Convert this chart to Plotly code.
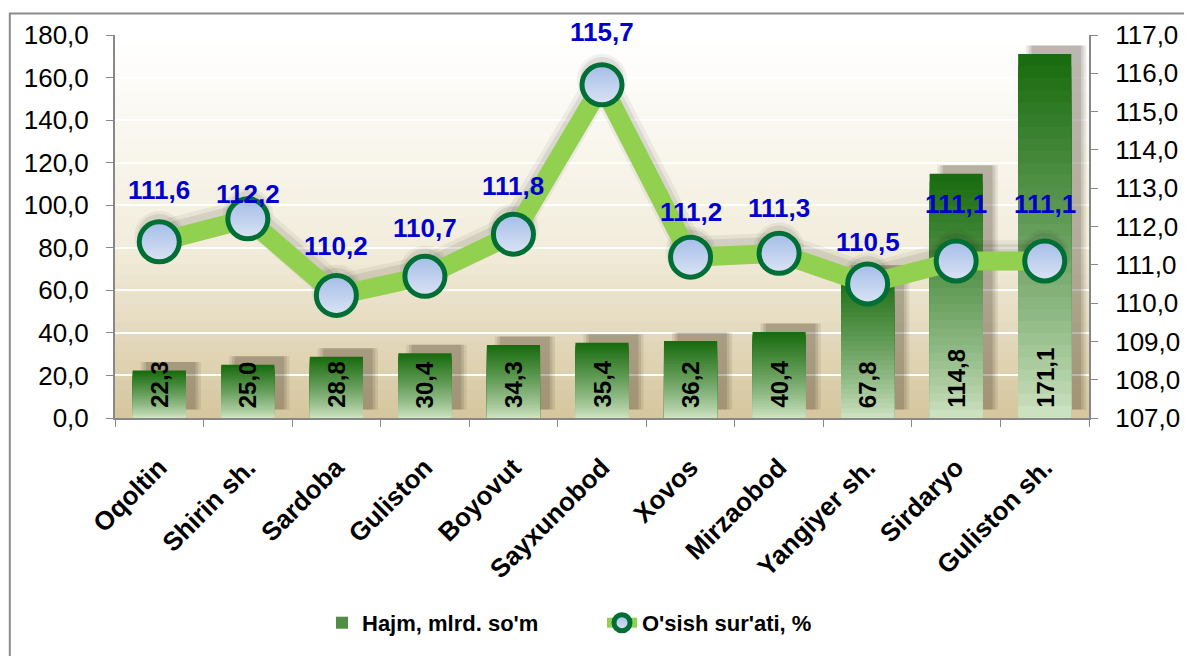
import plotly.graph_objects as go

# Tuman / shaharlar bo'yicha hajm va o'sish sur'ati
districts = ['Oqoltin', 'Shirin sh.', 'Sardoba', 'Guliston', 'Boyovut', 'Sayxunobod',
             'Xovos', 'Mirzaobod', 'Yangiyer sh.', 'Sirdaryo', 'Guliston sh.']
volume = [22.3, 25.0, 28.8, 30.4, 34.3, 35.4, 36.2, 40.4, 67.8, 114.8, 171.1]
growth = [111.6, 112.2, 110.2, 110.7, 111.8, 115.7, 111.2, 111.3, 110.5, 111.1, 111.1]

FONT = 'Arial, Liberation Sans, sans-serif'


def mix(c1, c2, t):
    t = min(max(t, 0), 1)
    return 'rgb(%d,%d,%d)' % tuple(round(a + (b - a) * t) for a, b in zip(c1, c2))


fig = go.Figure()

# soft bar shadows (up and to the right)
for w, a in [(0.68, 0.10), (0.62, 0.13), (0.56, 0.16)]:
    fig.add_trace(go.Bar(
        x=districts, y=volume, base=4, width=w, offset=-w / 2 + 0.13,
        marker=dict(color=f'rgba(60,50,30,{a})', line=dict(width=0)),
        showlegend=False, hoverinfo='skip',
    ))

# gradient bars: full-height dark bar first, then shorter and lighter bars on top
n_steps = 30
light, dark = (216, 233, 204), (26, 108, 16)
for i in range(n_steps):
    frac = (n_steps - i) / n_steps
    fig.add_trace(go.Bar(
        x=districts, y=[v * frac for v in volume],
        marker=dict(color=mix(light, dark, frac ** 0.8), line=dict(width=0)),
        width=0.6, name='Hajm, mlrd. so\'m', legendgroup='hajm',
        showlegend=(i == n_steps // 3), hoverinfo='skip',
    ))

# background gradient for the plot area
bg_top, bg_mid, bg_bot = (255, 255, 255), (242, 237, 220), (214, 199, 160)
n_bg = 40
for i in range(n_bg):
    t = i / (n_bg - 1)
    col = mix(bg_mid, bg_top, (t - 0.45) / 0.55) if t > 0.45 else mix(bg_bot, bg_mid, t / 0.45)
    fig.add_shape(type='rect', xref='x domain', yref='y domain',
                  x0=0, x1=1, y0=i / n_bg, y1=(i + 1) / n_bg + 0.002,
                  fillcolor=col, line=dict(width=0), layer='below')

# line shadow on a hidden, slightly shifted helper axis (y2)
for lw, ms, a in [(30, 50, 0.06), (22, 44, 0.09)]:
    fig.add_trace(go.Scatter(
        x=districts, y=growth, yaxis='y2', mode='lines+markers',
        line=dict(color=f'rgba(30,30,20,{a})', width=lw),
        marker=dict(size=ms, color=f'rgba(30,30,20,{a})'),
        showlegend=False, hoverinfo='skip',
    ))

# growth line on the visible right axis (y3)
fig.add_trace(go.Scatter(
    x=districts, y=growth, yaxis='y3', mode='lines+markers',
    name='O\'sish sur\'ati, %',
    line=dict(color='#92d050', width=19),
    marker=dict(size=40, color='#a4bde8', line=dict(color='#006f35', width=5),
                gradient=dict(type='vertical', color='#dbe4f4')),
))

# blue growth labels above markers
label_shift = [52, 25, 49, 48, 48, 53, 45, 45, 42, 57, 57]
for d, g, s in zip(districts, growth, label_shift):
    fig.add_annotation(x=d, y=g, yref='y3', text=f'{g:.1f}'.replace('.', ','),
                       showarrow=False, yshift=s,
                       font=dict(family=FONT, size=26, color='#0000cc', weight='bold'))

# rotated volume labels near bar bottom
for d, v in zip(districts, volume):
    fig.add_annotation(x=d, y=0, text=f'{v:.1f}'.replace('.', ','), textangle=-90,
                       showarrow=False, yanchor='bottom', yshift=8,
                       font=dict(family=FONT, size=24, color='black', weight='bold'))

# outer chart border
fig.add_shape(type='rect', xref='paper', yref='paper', x0=-0.108, x1=1.2, y0=-0.8, y1=1.056,
              line=dict(color='#8c8c8c', width=2), layer='above')

axis_common = dict(ticks='outside', ticklen=7, tickcolor='#888', showline=True,
                   linecolor='#888', linewidth=2, zeroline=False)

fig.update_layout(
    width=1184, height=648,
    margin=dict(l=107, r=98, t=23, b=237),
    barmode='overlay',
    separators=', ',
    paper_bgcolor='white', plot_bgcolor='white',
    font=dict(family=FONT, size=26, color='black'),
    showlegend=True,
    legend=dict(orientation='h', x=0.5, xanchor='center', y=-0.535, yanchor='middle',
                font=dict(size=22, weight='bold'), traceorder='normal',
                entrywidthmode='pixels', entrywidth=235),
    xaxis=dict(type='category', range=[-0.5, 10.5], tickangle=-45, tickson='boundaries',
               ticklabelstandoff=22, tickfont=dict(size=26, weight='bold'), showgrid=False,
               **axis_common),
    yaxis=dict(range=[0, 180], dtick=20, tickformat='.1f', ticklabelstandoff=12,
               gridcolor='white', gridwidth=2, **axis_common),
    yaxis2=dict(range=[106.85, 116.85], overlaying='y', visible=False),
    yaxis3=dict(range=[107, 117], dtick=1, tickformat='.1f', overlaying='y', side='right',
                ticklabelstandoff=12, showgrid=False, **axis_common),
)

fig.write_html('out.html')
